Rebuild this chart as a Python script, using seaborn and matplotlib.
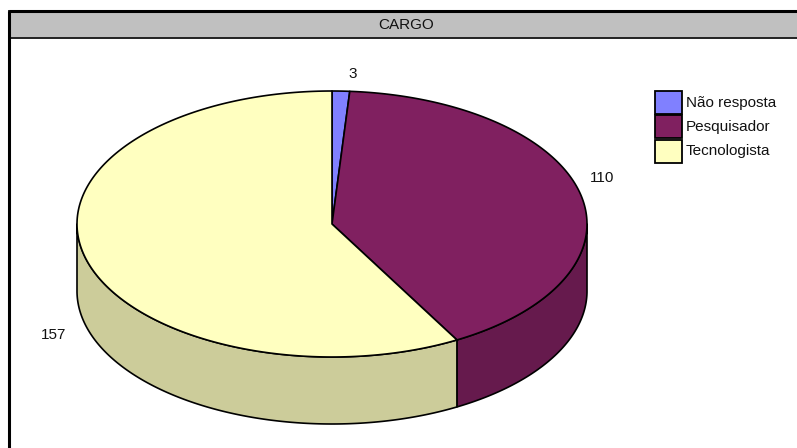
import numpy as np
import matplotlib
matplotlib.use("Agg")
import matplotlib.pyplot as plt
from matplotlib.patches import Polygon, Rectangle
import seaborn as sns

# ---- data ----
title = "CARGO"
categories = ["Não resposta", "Pesquisador", "Tecnologista"]
counts = [3, 110, 157]
top_colors = ["#8080FF", "#802060", "#FFFFC0"]

# ---- style ----
sns.set_theme(style="white")
plt.rcParams["font.family"] = ["Liberation Sans", "DejaVu Sans"]
palette = sns.color_palette(top_colors)
side_palette = [tuple(0.8 * c for c in col) for col in palette]
FS = 11

W, H = 797, 448
fig = plt.figure(figsize=(W / 100, H / 100), dpi=100)
ax = fig.add_axes([0, 0, 1, 1])
ax.set_xlim(0, W)
ax.set_ylim(H, 0)
ax.axis("off")

# chart frame and title bar
ax.add_patch(Rectangle((9, 11), 795, 460, fill=False, lw=2.2, ec="black", zorder=5))
ax.add_patch(Rectangle((9, 11), 795, 27, fc="#C0C0C0", ec="#222222", lw=1.4, zorder=4))
ax.text(406.5, 25, title, ha="center", va="center", fontsize=FS, color="#111111", zorder=6)

# ---- 3D pie geometry (pixel space) ----
cx, cy, ra, rb, depth = 332, 224, 255, 133, 67


def ellipse_pts(t0, t1, dz=0.0, n=200):
    t = np.radians(np.linspace(t0, t1, n))
    return np.column_stack([cx + ra * np.cos(t), cy - rb * np.sin(t) + dz])


total = float(sum(counts))
bounds = []
start = 90.0
for v in counts:
    end = start - v / total * 360.0
    bounds.append((start, end))
    start = end

# side walls (front half only: angles between -180 and 0)
for (s, e), col in zip(bounds, side_palette):
    lo, hi = max(e, -180.0), min(s, 0.0)
    if hi <= lo:
        continue
    top = ellipse_pts(lo, hi)
    bot = ellipse_pts(hi, lo, dz=depth)
    ax.add_patch(Polygon(np.vstack([top, bot]), closed=True, fc=col, ec="black",
                         lw=1.2, joinstyle="round", zorder=2))

# top faces
for (s, e), col in zip(bounds, palette):
    arc = ellipse_pts(s, e)
    pts = np.vstack([[cx, cy], arc])
    ax.add_patch(Polygon(pts, closed=True, fc=col, ec="black", lw=1.2,
                         joinstyle="round", zorder=3))

# value labels
label_xy = [(353, 74), (602, 178), (54, 335)]
for (x, y), v in zip(label_xy, counts):
    ax.text(x, y, str(v), ha="center", va="center", fontsize=FS, color="#111111", zorder=6)

# legend
for i, (name, col) in enumerate(zip(categories, palette)):
    y0 = 91 + i * 24.5
    ax.add_patch(Rectangle((655, y0), 27, 23, fc=col, ec="black", lw=1.3, zorder=6))
    ax.text(686, y0 + 11.5, name, ha="left", va="center", fontsize=FS, color="#111111", zorder=6)

fig.savefig("out.png", dpi=100)
